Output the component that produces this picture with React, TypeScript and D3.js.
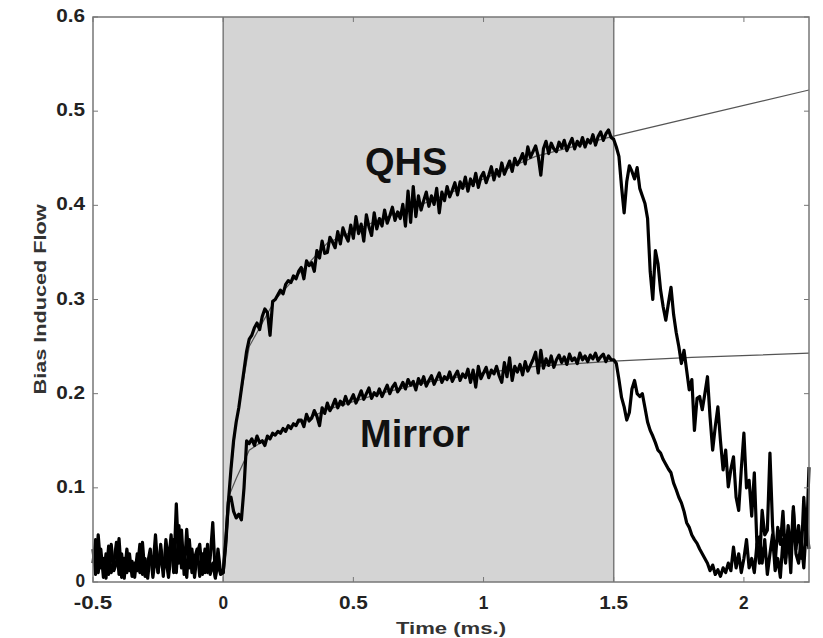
import * as d3 from 'd3';

// sample times (ms), one every 0.01 ms from -0.5 to 2.25
const timeMs = d3.range(276).map((i) => Math.round((-0.5 + i * 0.01) * 100) / 100);

const qhsFlow = [
  // -0.50 .. -0.01
  0.02, 0.045, 0.01, 0.035, 0.005, 0.03, 0.008, 0.04, 0.012, 0.02,
  0.046, 0.005, 0.025, 0.01, 0.03, 0.006, 0.02, 0.012, 0.04, 0.008,
  0.025, 0.004, 0.03, 0.015, 0.05, 0.01, 0.035, 0.006, 0.045, 0.02,
  0.05, 0.01, 0.083, 0.02, 0.055, 0.008, 0.056, 0.015, 0.035, 0.005,
  0.03, 0.04, 0.008, 0.035, 0.01, 0.025, 0.063, 0.005, 0.02, 0.008,
  // 0.00 .. 0.29
  0.01, 0.04, 0.085, 0.12, 0.15, 0.17, 0.185, 0.205, 0.225, 0.245,
  0.258, 0.262, 0.27, 0.275, 0.268, 0.282, 0.29, 0.286, 0.262, 0.298,
  0.3, 0.305, 0.31, 0.306, 0.316, 0.32, 0.318, 0.325, 0.322, 0.33,
  // 0.30 .. 0.69
  0.334, 0.322, 0.341, 0.336, 0.339, 0.33, 0.352, 0.344, 0.362, 0.349,
  0.35, 0.366, 0.361, 0.355, 0.372, 0.359, 0.376, 0.368, 0.362, 0.379,
  0.365, 0.388, 0.37, 0.38, 0.362, 0.39, 0.377, 0.368, 0.392, 0.375,
  0.386, 0.378, 0.395, 0.381, 0.389, 0.398, 0.384, 0.393, 0.386, 0.401,
  // 0.70 .. 1.09
  0.378, 0.415, 0.382, 0.42, 0.388, 0.41, 0.395, 0.405, 0.414, 0.399,
  0.41, 0.401, 0.418, 0.392, 0.414, 0.405, 0.42, 0.409, 0.416, 0.424,
  0.411, 0.425, 0.418, 0.43, 0.415, 0.428, 0.421, 0.434, 0.419, 0.43,
  0.435, 0.424, 0.432, 0.441, 0.427, 0.438, 0.431, 0.445, 0.433, 0.44,
  // 1.10 .. 1.49
  0.447, 0.436, 0.45, 0.443, 0.448, 0.455, 0.444, 0.462, 0.451, 0.457,
  0.463, 0.452, 0.432, 0.46, 0.468, 0.455, 0.466, 0.46, 0.457, 0.467,
  0.461, 0.469, 0.458, 0.465, 0.471, 0.46, 0.468, 0.463, 0.472, 0.462,
  0.47, 0.466, 0.475, 0.464, 0.473, 0.478, 0.469, 0.476, 0.48, 0.472,
  // 1.50 .. 1.89
  0.47, 0.462, 0.452, 0.42, 0.392, 0.425, 0.442, 0.436, 0.428, 0.44,
  0.418, 0.41, 0.402, 0.386, 0.33, 0.3, 0.352, 0.338, 0.31, 0.292,
  0.278, 0.296, 0.313, 0.284, 0.265, 0.25, 0.232, 0.246, 0.225, 0.204,
  0.215, 0.161, 0.195, 0.197, 0.183, 0.2, 0.218, 0.175, 0.14, 0.165,
  // 1.90 .. 2.25
  0.186, 0.15, 0.119, 0.14, 0.101, 0.12, 0.133, 0.09, 0.076, 0.12,
  0.158, 0.1, 0.108, 0.07, 0.116, 0.04, 0.02, 0.076, 0.05, 0.055,
  0.137, 0.06, 0.02, 0.058, 0.04, 0.075, 0.025, 0.06, 0.03, 0.08,
  0.035, 0.06, 0.025, 0.09, 0.04, 0.122,
];

const mirrorFlow = [
  // -0.50 .. -0.01
  0.035, 0.008, 0.05, 0.015, 0.025, 0.004, 0.038, 0.01, 0.02, 0.042,
  0.008, 0.03, 0.004, 0.035, 0.012, 0.022, 0.005, 0.03, 0.01, 0.042,
  0.006, 0.02, 0.035, 0.005, 0.028, 0.01, 0.04, 0.012, 0.025, 0.005,
  0.03, 0.045, 0.01, 0.06, 0.015, 0.03, 0.005, 0.045, 0.01, 0.025,
  0.035, 0.006, 0.03, 0.01, 0.04, 0.008, 0.02, 0.004, 0.035, 0.01,
  // 0.00 .. 0.29
  0.01, 0.045, 0.085, 0.09, 0.075, 0.068, 0.072, 0.066, 0.1, 0.15,
  0.147, 0.152, 0.145, 0.155, 0.148, 0.15, 0.145, 0.155, 0.152, 0.158,
  0.156, 0.16, 0.158, 0.163, 0.16, 0.166, 0.163, 0.168, 0.166, 0.172,
  // 0.30 .. 0.69
  0.172, 0.165, 0.178, 0.171, 0.174, 0.182, 0.176, 0.166, 0.185, 0.179,
  0.19, 0.182, 0.187, 0.194, 0.185, 0.192, 0.188, 0.197, 0.189, 0.193,
  0.199, 0.19, 0.196, 0.203, 0.194, 0.2, 0.206, 0.195, 0.201, 0.198,
  0.205, 0.197, 0.203, 0.209, 0.2, 0.207, 0.211, 0.202, 0.206, 0.212,
  // 0.70 .. 1.09
  0.205, 0.215, 0.209, 0.213, 0.204, 0.216, 0.21, 0.218, 0.208, 0.214,
  0.219, 0.21, 0.216, 0.222, 0.212, 0.218, 0.215, 0.223, 0.213, 0.219,
  0.224, 0.214, 0.221, 0.217, 0.226, 0.212, 0.225, 0.207, 0.229, 0.216,
  0.222, 0.228, 0.217, 0.225, 0.221, 0.229, 0.219, 0.212, 0.233, 0.218,
  // 1.10 .. 1.49
  0.238, 0.214, 0.229, 0.223, 0.231, 0.22, 0.234, 0.224, 0.23, 0.236,
  0.244, 0.222, 0.246, 0.227, 0.237, 0.23, 0.24, 0.228, 0.236, 0.241,
  0.233, 0.239, 0.231, 0.242, 0.235, 0.238, 0.232, 0.243, 0.236, 0.24,
  0.234, 0.241, 0.237, 0.243, 0.235, 0.239, 0.242, 0.234, 0.24, 0.236,
  // 1.50 .. 1.89
  0.236, 0.232, 0.215, 0.196, 0.186, 0.172, 0.18, 0.205, 0.214, 0.2,
  0.197, 0.2, 0.185, 0.17, 0.161, 0.155, 0.148, 0.14, 0.137, 0.13,
  0.125, 0.12, 0.116, 0.105, 0.098, 0.09, 0.084, 0.075, 0.063, 0.058,
  0.05, 0.045, 0.041, 0.035, 0.03, 0.025, 0.02, 0.012, 0.018, 0.008,
  // 1.90 .. 2.25
  0.013, 0.006, 0.015, 0.01, 0.02, 0.012, 0.037, 0.015, 0.03, 0.01,
  0.025, 0.045, 0.015, 0.025, 0.01, 0.04, 0.048, 0.02, 0.045, 0.008,
  0.03, 0.05, 0.012, 0.025, 0.005, 0.045, 0.02, 0.055, 0.01, 0.076,
  0.03, 0.02, 0.045, 0.015, 0.06, 0.035,
];

// fitted curves (thin lines)
const qhsFitTime = [0.02, 0.05, 0.1, 0.2, 0.4, 0.6, 0.8, 1.0, 1.2, 1.5, 1.8, 2.25];
const qhsFitFlow = [0.09, 0.17, 0.25, 0.3, 0.36, 0.385, 0.405, 0.428, 0.452, 0.4735, 0.4931, 0.5225];
const mirrorFitTime = [0.02, 0.05, 0.1, 0.2, 0.4, 0.6, 0.8, 1.0, 1.2, 1.5, 1.8, 2.25];
const mirrorFitFlow = [0.09, 0.11, 0.14, 0.158, 0.183, 0.2, 0.213, 0.222, 0.229, 0.2345, 0.2385, 0.243];

const pulseWindow = [0, 1.5];
const xTicks = [-0.5, 0, 0.5, 1, 1.5, 2];
const yTicks = [0, 0.1, 0.2, 0.3, 0.4, 0.5, 0.6];

const W = 823;
const H = 638;
const margin = { top: 17, right: 14, bottom: 56, left: 93 };

export default function App() {
  const x = d3.scaleLinear().domain([-0.5, 2.25]).range([margin.left, W - margin.right]);
  const y = d3.scaleLinear().domain([0, 0.6]).range([H - margin.bottom, margin.top]);

  const line = d3
    .line<[number, number]>()
    .x((d) => x(d[0]))
    .y((d) => y(d[1]));

  const qhs = timeMs.map((t, i) => [t, qhsFlow[i]] as [number, number]);
  const mirror = timeMs.map((t, i) => [t, mirrorFlow[i]] as [number, number]);
  const qhsFit = qhsFitTime.map((t, i) => [t, qhsFitFlow[i]] as [number, number]);
  const mirrorFit = mirrorFitTime.map((t, i) => [t, mirrorFitFlow[i]] as [number, number]);

  const [x0, x1] = x.range();
  const [y0, y1] = y.range();
  const font = 'Liberation Sans, Arial, sans-serif';
  // the picture is a bit stretched sideways, so widen the labels to match
  const tickLen = (s: string) => s.length * 9.6;

  return (
    <svg
      width={W}
      height={H}
      style={{ position: 'absolute', left: 0, top: 0, background: '#fff' }}
    >
      <rect
        x={x(pulseWindow[0])}
        y={y1}
        width={x(pulseWindow[1]) - x(pulseWindow[0])}
        height={y0 - y1}
        fill="#d4d4d4"
      />
      {pulseWindow.map((t) => (
        <line key={t} x1={x(t)} x2={x(t)} y1={y1} y2={y0} stroke="#7a7a7a" strokeWidth={1.5} />
      ))}

      <path d={line(qhsFit) ?? ''} fill="none" stroke="#555" strokeWidth={1.2} />
      <path d={line(mirrorFit) ?? ''} fill="none" stroke="#555" strokeWidth={1.2} />

      <path d={line(mirror) ?? ''} fill="none" stroke="#000" strokeWidth={3.2} strokeLinejoin="round" />
      <path d={line(qhs) ?? ''} fill="none" stroke="#000" strokeWidth={3.2} strokeLinejoin="round" />

      <rect x={x0} y={y1} width={x1 - x0} height={y0 - y1} fill="none" stroke="#777" strokeWidth={1.5} />

      {xTicks.map((t) => (
        <g key={'x' + t}>
          <line x1={x(t)} x2={x(t)} y1={y0} y2={y0 - 5} stroke="#777" />
          <line x1={x(t)} x2={x(t)} y1={y1} y2={y1 + 5} stroke="#777" />
          <text
            x={x(t)}
            y={y0 + 27}
            textAnchor="middle"
            fontFamily={font}
            fontWeight="bold"
            fontSize={18}
            fill="#222"
            textLength={tickLen(String(t))}
            lengthAdjust="spacingAndGlyphs"
          >
            {String(t)}
          </text>
        </g>
      ))}
      {yTicks.map((v) => (
        <g key={'y' + v}>
          <line x1={x0} x2={x0 + 5} y1={y(v)} y2={y(v)} stroke="#777" />
          <line x1={x1} x2={x1 - 5} y1={y(v)} y2={y(v)} stroke="#777" />
          <text
            x={x0 - 8}
            y={y(v) + 5}
            textAnchor="end"
            fontFamily={font}
            fontWeight="bold"
            fontSize={18}
            fill="#222"
            textLength={tickLen(String(v))}
            lengthAdjust="spacingAndGlyphs"
          >
            {String(v)}
          </text>
        </g>
      ))}

      <text
        x={(x0 + x1) / 2}
        y={H - 4}
        textAnchor="middle"
        fontFamily={font}
        fontWeight="bold"
        fontSize={16}
        fill="#333"
        textLength={110}
        lengthAdjust="spacingAndGlyphs"
      >
        Time (ms.)
      </text>
      <text
        transform={`translate(46,${(y0 + y1) / 2}) rotate(-90)`}
        textAnchor="middle"
        fontFamily={font}
        fontWeight="bold"
        fontSize={16}
        fill="#333"
        textLength={190}
        lengthAdjust="spacingAndGlyphs"
      >
        Bias Induced Flow
      </text>

      <text x={365} y={175} fontFamily={font} fontWeight="bold" fontSize={38} fill="#111">
        QHS
      </text>
      <text x={360} y={447} fontFamily={font} fontWeight="bold" fontSize={38} fill="#111">
        Mirror
      </text>
    </svg>
  );
}
